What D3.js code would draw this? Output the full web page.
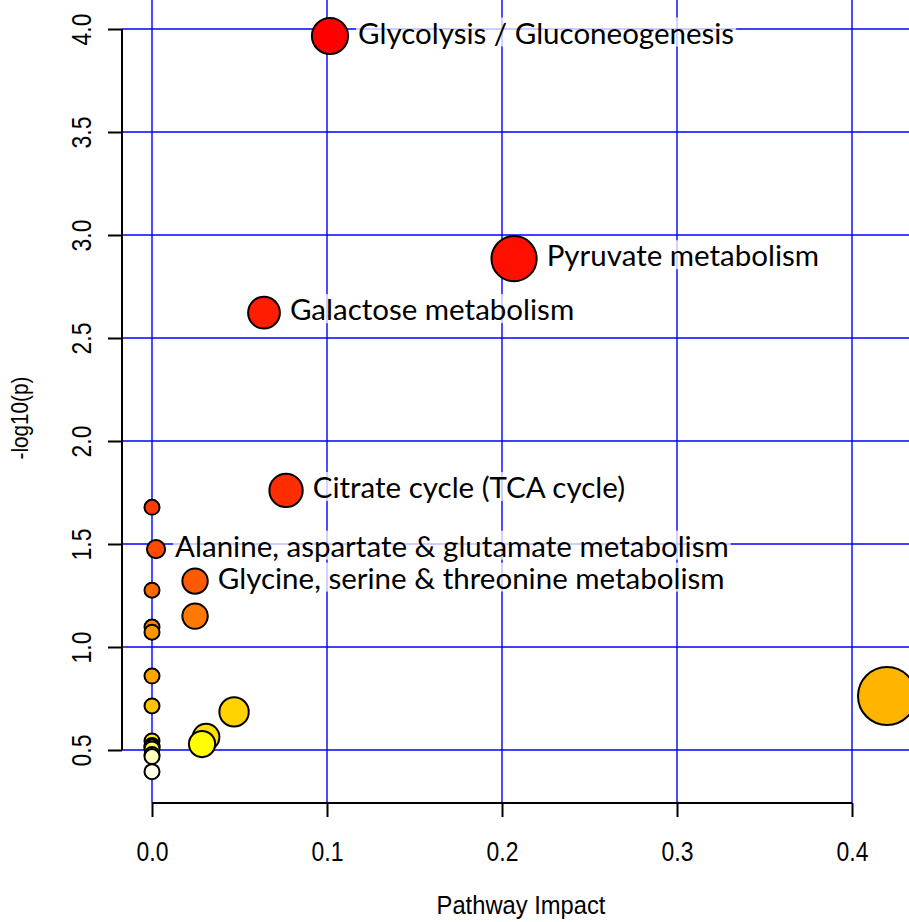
<!DOCTYPE html>
<html><head><meta charset="utf-8">
<script src="https://cdn.jsdelivr.net/npm/d3@7"></script>
<style>html,body{margin:0;padding:0;background:#fff;}svg{display:block;}</style>
</head><body>
<svg id="chart" width="909" height="922"></svg>
<script>
// ---- data ----
const pathways = ["Glycolysis / Gluconeogenesis","Pyruvate metabolism","Galactose metabolism","Citrate cycle (TCA cycle)","","Alanine, aspartate & glutamate metabolism","Glycine, serine & threonine metabolism","","","","","","","","","","","","","","","","",""];
const impact = [0.1017,0.2069,0.0640,0.0766,0,0.0023,0.0246,0,0.0246,0,0,0,0.4200,0,0.0469,0.0309,0,0.0286,0,0,0,0,0,0];
const logp = [3.966,2.885,2.623,1.760,1.678,1.475,1.320,1.276,1.150,1.097,1.072,0.859,0.762,0.714,0.685,0.563,0.544,0.529,0.522,0.515,0.505,0.478,0.468,0.395];
const xTicks = [0.0,0.1,0.2,0.3,0.4];
const yTicks = [0.5,1.0,1.5,2.0,2.5,3.0,3.5,4.0];
const xTitle = "Pathway Impact";
const yTitle = "-log10(p)";

// R heat.colors(n)
function hsv(h,s,v){
  const c=v*s, x=c*(1-Math.abs((h/60)%2-1)), m=v-c; let r,g,b;
  if(h<60){r=c;g=x;b=0;} else {r=x;g=c;b=0;}
  return d3.rgb((r+m)*255,(g+m)*255,(b+m)*255).formatHex();
}
function heatColors(n){
  const j = Math.floor(n/4), i = n - j, out = [];
  for(let k=0;k<i;k++){ const h = (i>1? k/(i-1):0)*60; out.push(hsv(h,1,1)); }
  const s0 = 1-1/(2*j), s1 = 1/(2*j);
  for(let k=0;k<j;k++){ const s = j>1 ? s0 + k*(s1-s0)/(j-1) : s0; out.push(hsv(60,s,1)); }
  return out;
}

const svg = d3.select("#chart");
const x = d3.scaleLinear().domain([0,0.4]).range([152,852]);
const y = d3.scaleLinear().domain([0.5,4.0]).range([750,29]);
const r = d3.scaleSqrt().domain([0,0.42]).range([7.5,29]);

const data = pathways.map((p,i)=>({name:p, impact:impact[i], logp:logp[i]}));
const order = d3.range(data.length).sort((a,b)=>data[b].logp-data[a].logp);
const cols = heatColors(data.length);
order.forEach((idx,rank)=>{ data[idx].fill = cols[rank]; });

// grid
const grid = svg.append("g");
grid.selectAll("line.v").data(xTicks).join("line")
  .attr("x1",d=>x(d)).attr("x2",d=>x(d)).attr("y1",0).attr("y2",803)
  .attr("stroke","#0000ff").attr("stroke-width",1.4);
grid.selectAll("line.h").data(yTicks).join("line")
  .attr("x1",122).attr("x2",909).attr("y1",d=>y(d)).attr("y2",d=>y(d))
  .attr("stroke","#0000ff").attr("stroke-width",1.4);

// axes
const axFont = "'Liberation Sans', Arial, sans-serif";
const gx = svg.append("g").attr("transform","translate(0,803)")
  .call(d3.axisBottom(x).tickValues(xTicks).tickFormat(d3.format(".1f")).tickSize(14).tickPadding(18));
const gy = svg.append("g").attr("transform","translate(122,0)")
  .call(d3.axisLeft(y).tickValues(yTicks).tickFormat(d3.format(".1f")).tickSize(14).tickPadding(0));
[gx,gy].forEach(g=>{
  g.select(".domain").remove();
  g.selectAll(".tick line").attr("stroke","#000").attr("stroke-width",2);
  g.selectAll("text").attr("fill","#000").style("font-family",axFont).style("font-size","27px");
});
gx.append("line").attr("x1",x(0)).attr("x2",x(0.4)).attr("stroke","#000").attr("stroke-width",2);
gy.append("line").attr("y1",y(0.5)).attr("y2",y(4.0)).attr("stroke","#000").attr("stroke-width",2);
gx.selectAll(".tick text").attr("y",null).attr("dy",null)
  .attr("transform","translate(0,48) scale(0.85,1)").attr("dominant-baseline","central");
gy.selectAll(".tick text").attr("x",null).attr("dy",null)
  .attr("text-anchor","middle").attr("dominant-baseline","central")
  .attr("transform","translate(-41,0) rotate(-90) scale(0.85,1)");

svg.append("text").attr("text-anchor","middle")
  .attr("transform","translate(521,914) scale(0.95,1)")
  .style("font-family",axFont).style("font-size","25px").text(xTitle);
svg.append("text").attr("text-anchor","middle").attr("dominant-baseline","central")
  .attr("transform","translate(20,418) rotate(-90) scale(0.9,1)")
  .style("font-family",axFont).style("font-size","23px").text(yTitle);

// points
svg.append("g").selectAll("circle").data(order.map(i=>data[i])).join("circle")
  .attr("cx",d=>x(d.impact)).attr("cy",d=>y(d.logp)).attr("r",d=>r(d.impact))
  .attr("fill",d=>d.fill).attr("stroke","#000").attr("stroke-width",2);

// labels
const lab = svg.append("g").selectAll("g").data(data.filter(d=>d.name)).join("g");
lab.each(function(d){
  const g = d3.select(this);
  const tx = x(d.impact)+r(d.impact)+10, ty = y(d.logp)-4;
  const rect = g.append("rect");
  const t = g.append("text").attr("x",tx).attr("y",ty).attr("dominant-baseline","central")
    .style("font-family","Lato, 'Open Sans', sans-serif").style("font-size","29.5px").attr("fill","#000").text(d.name);
  const bb = t.node().getBBox();
  rect.attr("x",bb.x-2).attr("y",bb.y+3).attr("width",bb.width+4).attr("height",bb.height-6)
    .attr("fill","#fff").attr("fill-opacity",0.75);
});
</script>
</body></html>
